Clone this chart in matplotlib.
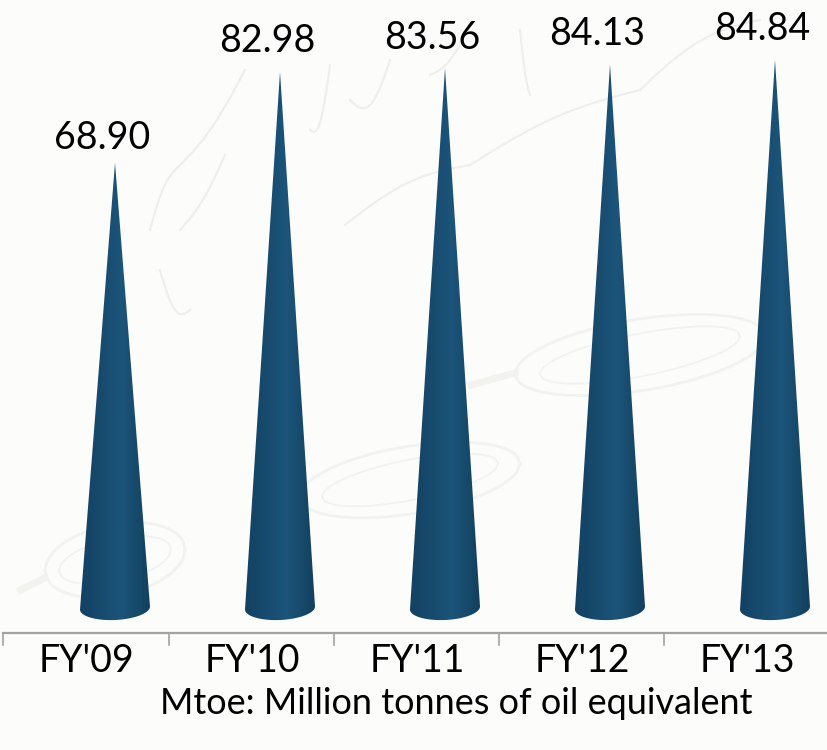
import numpy as np
import matplotlib
matplotlib.use("Agg")
import matplotlib.pyplot as plt
from matplotlib.patches import Polygon
from matplotlib.colors import LinearSegmentedColormap

categories = ["FY'09", "FY'10", "FY'11", "FY'12", "FY'13"]
values = [68.90, 82.98, 83.56, 84.13, 84.84]
value_labels = ["68.90", "82.98", "83.56", "84.13", "84.84"]
note = "Mtoe: Million tonnes of oil equivalent"

W, H = 827, 750
BG = "#fcfcfa"
plt.rcParams['font.family'] = ['Lato', 'DejaVu Sans']
fig = plt.figure(figsize=(W / 100, H / 100), dpi=100, facecolor=BG)

# decorative watermark layer, in picture pixels, behind the chart
bg = fig.add_axes([0, 0, 1, 1], facecolor=BG, zorder=0)
bg.set_xlim(0, W)
bg.set_ylim(H, 0)
bg.axis("off")
wm = "#f2f2ef"
u = np.linspace(-1, 1, 80)
for (ex, ey, ew, eh, tilt) in [(640, 355, 125, 36, -0.15), (410, 480, 110, 34, -0.15), (115, 560, 70, 36, -0.15)]:
    lens = np.sqrt(1 - u ** 2)
    for sign in (1, -1):
        bg.plot(ex + ew * u, ey + tilt * ew * u + sign * eh * lens, color=wm, lw=2.0)
        bg.plot(ex + 0.8 * ew * u, ey + tilt * ew * u + sign * 0.6 * eh * lens, color=wm, lw=1.3)
    bg.plot([ex - 1.35 * ew, ex - ew], [ey + 30, ey + 18], color=wm, lw=5)
for sx, sy, ex, ey, bend in [(245, 70, 175, 170, 10), (175, 170, 150, 230, -10), (225, 155, 180, 230, 8),
                             (330, 65, 310, 130, 25), (390, 60, 350, 100, 25), (470, 25, 430, 75, 10),
                             (345, 225, 470, 165, -12), (470, 165, 640, 90, -10), (640, 90, 760, 20, -14),
                             (160, 270, 190, 310, 20), (520, 30, 530, 95, 10)]:
    s = np.linspace(0, 1, 30)
    bg.plot(sx + (ex - sx) * s, sy + (ey - sy) * s + bend * np.sin(np.pi * s), color="#eeeeeb", lw=1.5)

ax = fig.add_axes([0, 0, 1, 1], zorder=1)
ax.patch.set_alpha(0)

# scales: one category = 165 px, one value unit = 6.46 px
px_x, px_y = 165.0, 6.46
first_cat_px, zero_px = 87.0, 608.0
xlim = (-first_cat_px / px_x, (W - first_cat_px) / px_x)
ylim = ((zero_px - H) / px_y, zero_px / px_y)
ax.axis("off")

cmap = LinearSegmentedColormap.from_list(
    "cone", [(0, "#134162"), (0.3, "#174b6e"), (0.6, "#1c547a"), (0.85, "#164868"), (1, "#123f5f")])
grad = np.linspace(0, 1, 256)[None, :]
cone_shift = 28 / px_x
half_w = 35 / px_x
t = np.linspace(0, np.pi, 60)
label_lift = [5, 9, 9, 9, 9]
for i, (v, lab, lift) in enumerate(zip(values, value_labels, label_lift)):
    cx = i + cone_shift
    xs = cx + half_w * np.cos(t)
    ys = -(12 / px_y) * np.sin(t) + (1.5 / px_y) * np.cos(t)
    outline = np.column_stack([np.r_[cx, xs], np.r_[v, ys]])
    im = ax.imshow(grad, cmap=cmap, extent=[cx - half_w, cx + half_w, -3, v], aspect="auto", zorder=2)
    clip = Polygon(outline, closed=True, transform=ax.transData, fc="none", ec="none")
    ax.add_patch(clip)
    im.set_clip_path(clip)
    ax.annotate(lab, (i + 15 / px_x, v), xytext=(0, lift), textcoords="offset points",
                ha="center", va="bottom", fontsize=27, color="black", zorder=3)

ax.set_xlim(*xlim)
ax.set_ylim(*ylim)

# category axis
axis_y = (zero_px - 633) / px_y
tick_len = 12 / px_y
ax.plot([xlim[0] + 3 / px_x, xlim[1]], [axis_y, axis_y], color="#a3a3a3", lw=1.6, zorder=1)
for i in range(len(categories) + 1):
    ax.plot([i - 0.5 - 1 / px_x] * 2, [axis_y, axis_y - tick_len], color="#a3a3a3", lw=1.2, zorder=1)
for i, c in enumerate(categories):
    ax.text(i, (zero_px - 661) / px_y, c, ha="center", va="center", fontsize=27, color="black")
ax.text((456 - first_cat_px) / px_x, (zero_px - 704) / px_y, note, ha="center", va="center", fontsize=25.9, color="black")

fig.savefig("out.png", dpi=100, facecolor=fig.get_facecolor())
